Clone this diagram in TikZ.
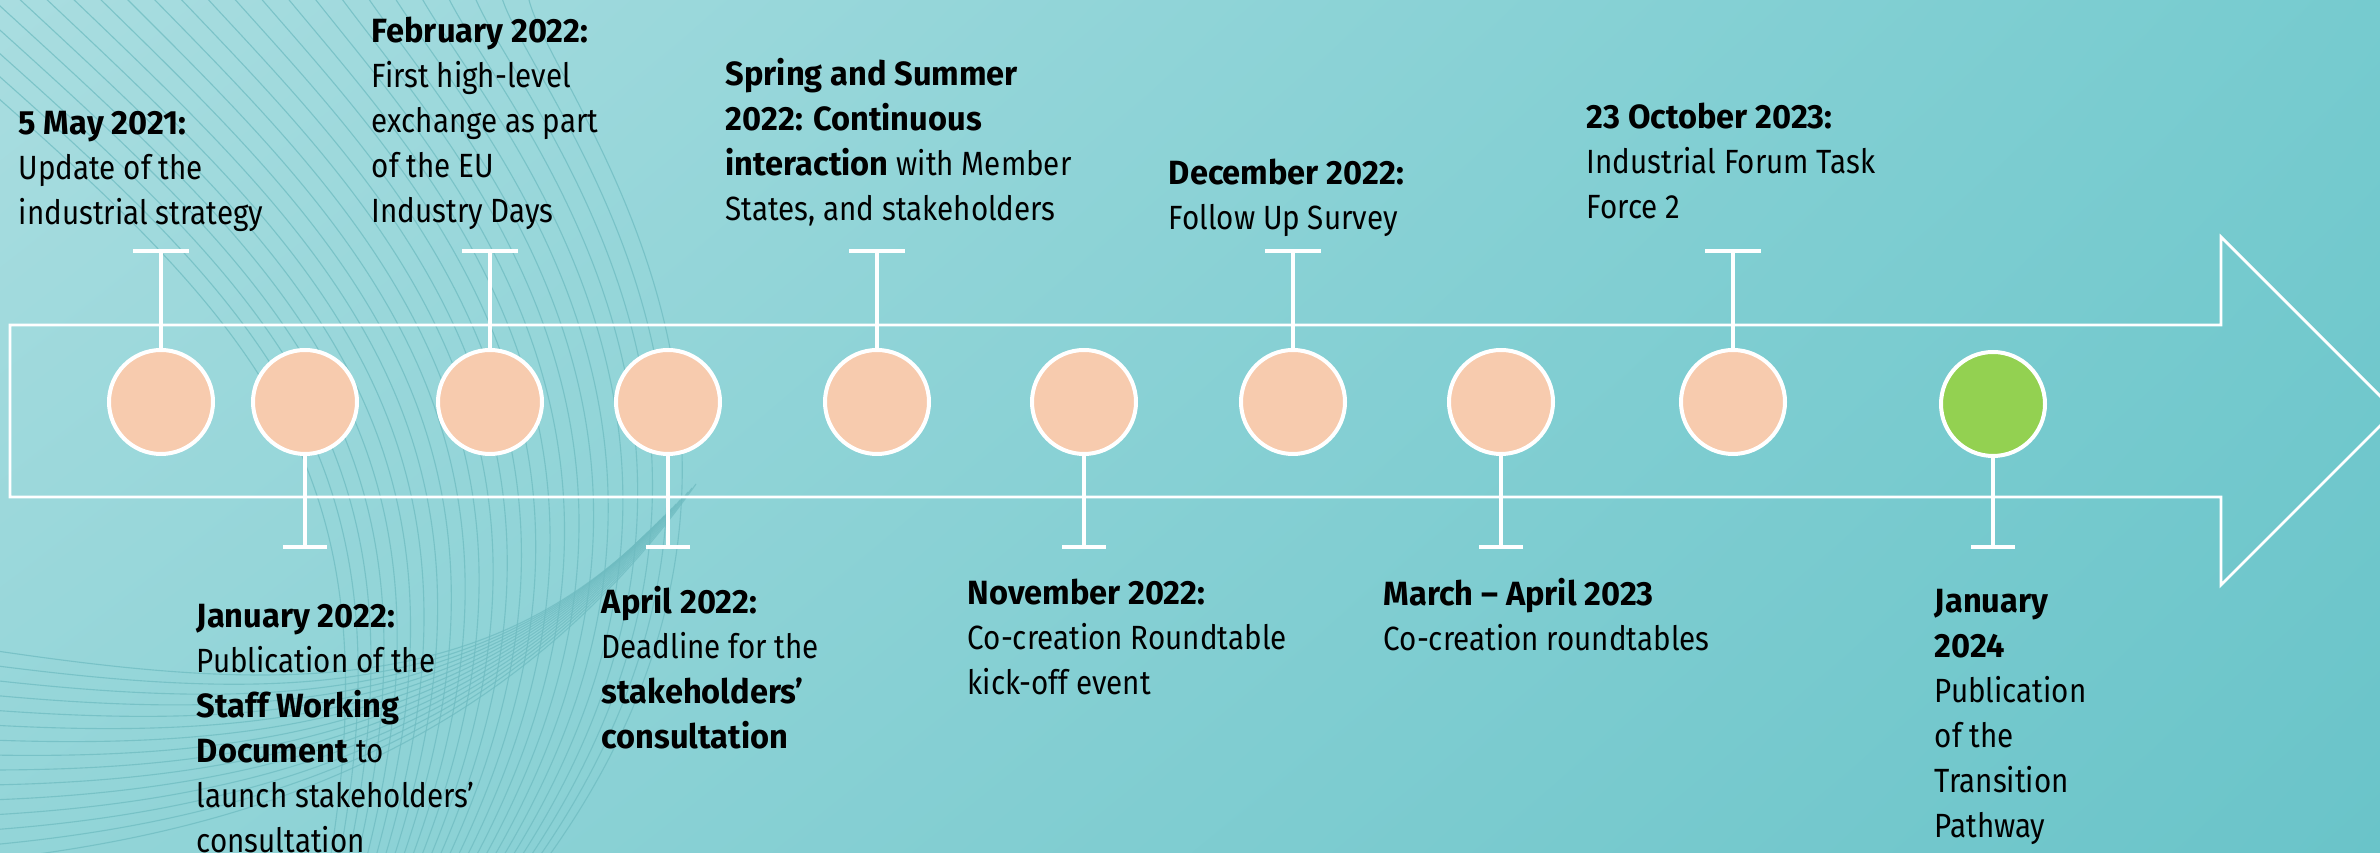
\documentclass[tikz,border=0pt]{standalone}
\usepackage{fontspec}
\setmainfont{Fira Sans}[FakeStretch=0.88, BoldFeatures={FakeStretch=0.97}]
\usetikzlibrary{shadings}

\definecolor{bgTL}{HTML}{A9DDE0}
\definecolor{bgTR}{HTML}{76CBCF}
\definecolor{bgBL}{HTML}{93D5D8}
\definecolor{bgBR}{HTML}{6AC4C9}
\definecolor{wavecol}{HTML}{6FBCC1}
\definecolor{dotpeach}{HTML}{F7CBAE}
\definecolor{dotgreen}{HTML}{93D151}

\begin{document}
\begin{tikzpicture}[x=0.25pt, y=-0.25pt,
    dot/.style={circle, draw=white, line width=1pt, fill=dotpeach, minimum size=26pt, inner sep=0pt},
    stem/.style={draw=white, line width=0.85pt},
    bar/.style={draw=white, line width=0.9pt},
    wave/.style={draw=wavecol, line width=0.28pt, opacity=0.75},
    lbl/.style={anchor=north west, inner sep=0pt, align=left, font=\fontsize{8.4}{11.25}\selectfont}]
    \useasboundingbox (0,0) rectangle (2380,853);
    \clip (0,0) rectangle (2380,853);
    \shade[upper left=bgTL, upper right=bgTR, lower left=bgBL, lower right=bgBR] (0,0) rectangle (2380,853);

    % background waves
    \foreach \i in {0,...,24}
        \draw[wave] (-120+27*\i,-5) .. controls (230+13*\i,300-9*\i) and (400+19*\i,430) .. (330+9*\i,860);
    \foreach \i in {0,...,14}
        \draw[wave] (-10,650+15*\i) .. controls (260,690+10*\i) and (470+3*\i,700+3*\i) .. (640+4*\i,540-4*\i);

    % arrow
    \draw[white, line width=0.7pt] (10,325) -- (2221,325) -- (2221,237) -- (2395,411) -- (2221,585) -- (2221,497) -- (10,497) -- cycle;

    % milestones
    \foreach \n/\x in {1/161,2/305,3/490,4/668,5/877,6/1084,7/1293,8/1501,9/1733}
        \node[dot] (c\n) at (\x,402) {};
    \node[dot, fill=dotgreen] (c10) at (1993,404) {};

    \foreach \n/\x in {1/161,3/490,5/877,7/1293,9/1733}{
        \coordinate (u\n) at (\x,251);
        \draw[stem] (c\n.north) -- (u\n);
        \draw[bar] ([xshift=-6.9pt]u\n) -- ([xshift=6.9pt]u\n);
    }
    \foreach \n/\x in {2/305,4/668,6/1084,8/1501,10/1993}{
        \coordinate (d\n) at (\x,547);
        \draw[stem] (c\n.south) -- (d\n);
        \draw[bar] ([xshift=-5.4pt]d\n) -- ([xshift=5.4pt]d\n);
    }

    % labels
    \node[lbl] (t1) at (18,110) {\textbf{5 May 2021:}\\Update of the\\industrial strategy};
    \node[lbl] (t2) at (196,603) {\textbf{January 2022:}\\Publication of the\\\textbf{Staff Working}\\\textbf{Document} to\\launch stakeholders'\\consultation};
    \node[lbl] (t3) at (371,16) {\textbf{February 2022:}\\First high-level\\exchange as part\\of the EU\\Industry Days};
    \node[lbl] (t4) at (601,585) {\textbf{April 2022:}\\Deadline for the\\\textbf{stakeholders'}\\\textbf{consultation}};
    \node[lbl] (t5) at (725,57) {\textbf{Spring and Summer}\\\textbf{2022: Continuous}\\\textbf{interaction} with Member\\States, and stakeholders};
    \node[lbl] (t6) at (967,578) {\textbf{November 2022:}\\Co-creation Roundtable\\kick-off event};
    \node[lbl] (t7) at (1168,158) {\textbf{December 2022:}\\Follow Up Survey};
    \node[lbl] (t8) at (1383,577) {\textbf{March \textendash{} April 2023}\\Co-creation roundtables};
    \node[lbl] (t9) at (1586,102) {\textbf{23 October 2023:}\\Industrial Forum Task\\Force 2};
    \node[lbl] (t10) at (1934,588) {\textbf{January}\\\textbf{2024}\\Publication\\of the\\Transition\\Pathway};
\end{tikzpicture}
\end{document}
